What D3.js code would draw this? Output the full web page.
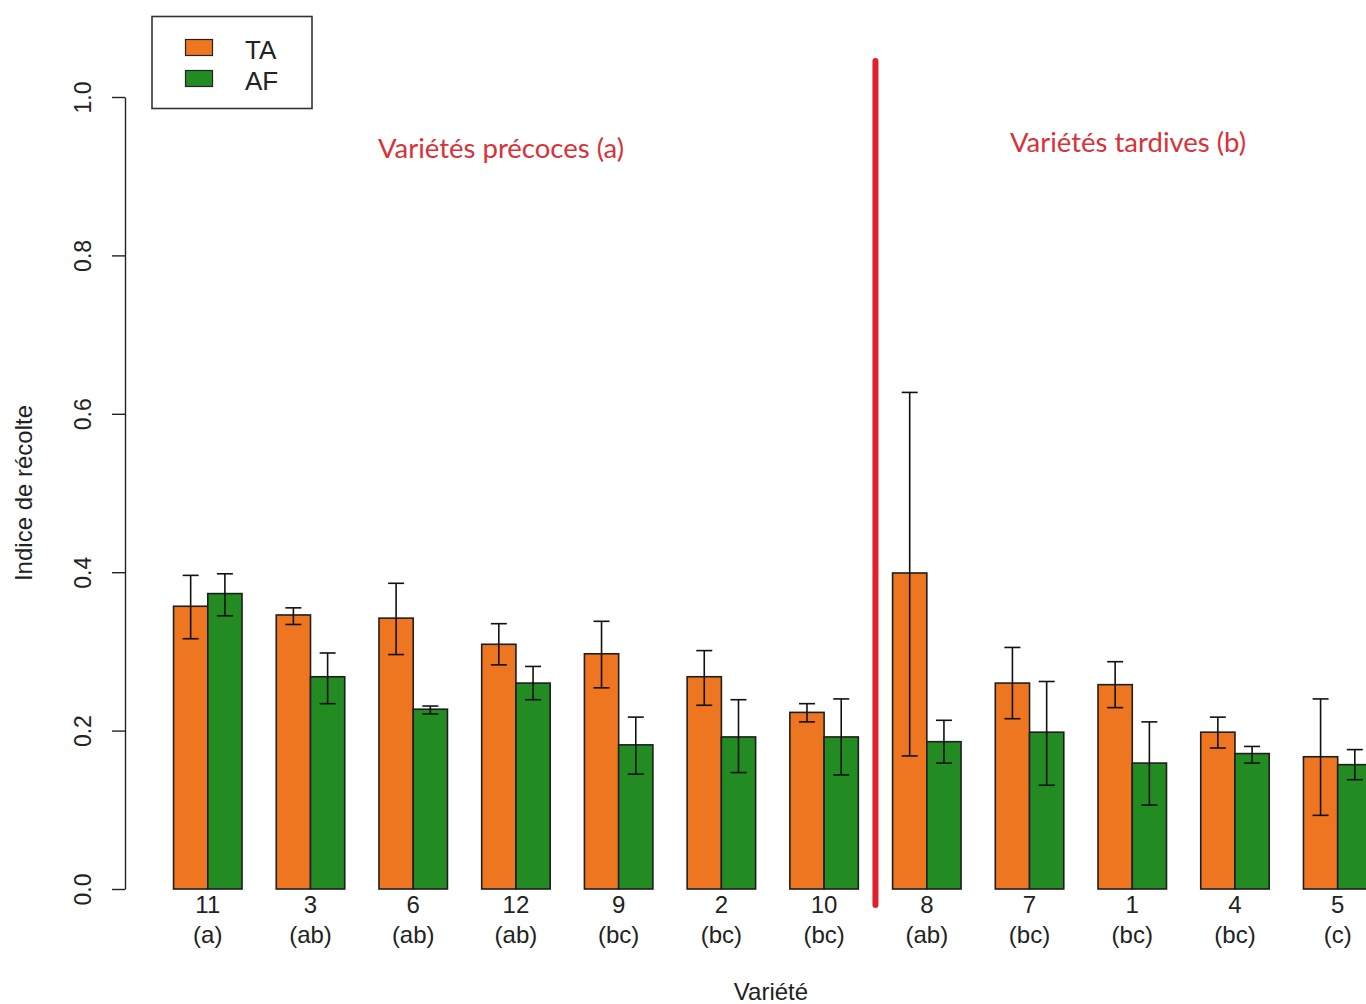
<!DOCTYPE html>
<html>
<head>
<meta charset="utf-8">
<script src="https://cdn.jsdelivr.net/npm/d3@7"></script>
<style>
  html, body { margin: 0; padding: 0; background: #fff; }
  svg { display: block; }
</style>
</head>
<body>
<svg id="chart" width="1366" height="1004"></svg>
<script>
// ---- Data ----
const categories = ["11", "3", "6", "12", "9", "2", "10", "8", "7", "1", "4", "5"];
const groupLetters = ["(a)", "(ab)", "(ab)", "(ab)", "(bc)", "(bc)", "(bc)", "(ab)", "(bc)", "(bc)", "(bc)", "(c)"];
const seriesNames = ["TA", "AF"];
const taValues = [0.357, 0.346, 0.342, 0.309, 0.297, 0.268, 0.223, 0.399, 0.260, 0.258, 0.198, 0.167];
const taLow    = [0.316, 0.334, 0.296, 0.283, 0.254, 0.232, 0.211, 0.168, 0.215, 0.229, 0.178, 0.093];
const taHigh   = [0.396, 0.355, 0.386, 0.335, 0.338, 0.301, 0.234, 0.627, 0.305, 0.287, 0.217, 0.240];
const afValues = [0.373, 0.268, 0.227, 0.260, 0.182, 0.192, 0.192, 0.186, 0.198, 0.159, 0.171, 0.157];
const afLow    = [0.345, 0.234, 0.221, 0.239, 0.145, 0.147, 0.144, 0.159, 0.131, 0.106, 0.159, 0.138];
const afHigh   = [0.398, 0.298, 0.231, 0.281, 0.217, 0.239, 0.240, 0.213, 0.262, 0.211, 0.180, 0.176];
const yTicks = [0, 0.2, 0.4, 0.6, 0.8, 1.0];
const earlyLabel = "Variétés précoces (a)";
const lateLabel = "Variétés tardives (b)";
const lastEarly = "10", firstLate = "8";

const colors = { TA: "#EE7621", AF: "#228B22" };

// ---- Layout ----
const svg = d3.select("#chart");
const unit = 34.24;
const xStart = 139.3;
const y = d3.scaleLinear().domain([0, 1]).range([889, 97]);
const x0 = d3.scaleBand().domain(categories)
  .range([xStart, xStart + 37 * unit])
  .paddingInner(1 / 3).paddingOuter(1 / 3);
const x1 = d3.scaleBand().domain(seriesNames).range([0, x0.bandwidth()]);

const rows = categories.map((c, i) => ({
  cat: c,
  letter: groupLetters[i],
  bars: [
    { s: "TA", v: taValues[i], lo: taLow[i], hi: taHigh[i] },
    { s: "AF", v: afValues[i], lo: afLow[i], hi: afHigh[i] }
  ]
}));

// ---- Bars ----
const groups = svg.append("g").selectAll("g").data(rows).join("g")
  .attr("transform", d => `translate(${x0(d.cat)},0)`);

groups.selectAll("rect").data(d => d.bars).join("rect")
  .attr("x", d => x1(d.s))
  .attr("y", d => y(d.v))
  .attr("width", x1.bandwidth())
  .attr("height", d => y(0) - y(d.v))
  .attr("fill", d => colors[d.s])
  .attr("stroke", "#1e1e1e")
  .attr("stroke-width", 1.6);

// ---- Error bars ----
const cap = 8;
const eb = groups.selectAll("g.err").data(d => d.bars).join("g").attr("class", "err")
  .attr("transform", d => `translate(${x1(d.s) + x1.bandwidth() / 2},0)`)
  .attr("stroke", "#111").attr("stroke-width", 1.6).attr("fill", "none");
eb.append("line").attr("x1", 0).attr("x2", 0).attr("y1", d => y(d.lo)).attr("y2", d => y(d.hi));
eb.append("line").attr("x1", -cap).attr("x2", cap).attr("y1", d => y(d.hi)).attr("y2", d => y(d.hi));
eb.append("line").attr("x1", -cap).attr("x2", cap).attr("y1", d => y(d.lo)).attr("y2", d => y(d.lo));

// ---- Y axis ----
const yAxis = svg.append("g").attr("transform", "translate(125,0)")
  .call(d3.axisLeft(y).tickValues(yTicks).tickFormat(d3.format(".1f")).tickSize(13).tickSizeOuter(0));
yAxis.select(".domain").attr("stroke", "#222").attr("stroke-width", 1.4);
yAxis.selectAll(".tick line").attr("stroke", "#222").attr("stroke-width", 1.4);
yAxis.selectAll(".tick text")
  .attr("x", null).attr("dy", null)
  .attr("transform", "translate(-42,0) rotate(-90)")
  .attr("text-anchor", "middle")
  .attr("dy", "0.35em")
  .attr("fill", "#222")
  .style("font-family", "'Liberation Sans', Arial, sans-serif")
  .style("font-size", "23px");

// Y title
svg.append("text")
  .attr("transform", "translate(24,493) rotate(-90)")
  .attr("text-anchor", "middle").attr("dy", "0.35em")
  .attr("fill", "#222")
  .style("font-family", "'Liberation Sans', Arial, sans-serif")
  .style("font-size", "24px")
  .text("Indice de récolte");

// ---- X labels ----
const xl = svg.append("g")
  .style("font-family", "'Liberation Sans', Arial, sans-serif")
  .style("font-size", "24px").attr("fill", "#222").attr("text-anchor", "middle");
xl.selectAll("text.cat").data(rows).join("text").attr("class", "cat")
  .attr("x", d => x0(d.cat) + x0.bandwidth() / 2).attr("y", 913).text(d => d.cat);
xl.selectAll("text.let").data(rows).join("text").attr("class", "let")
  .attr("x", d => x0(d.cat) + x0.bandwidth() / 2).attr("y", 943).text(d => d.letter);
xl.append("text").attr("x", 771).attr("y", 1000).text("Variété");

// ---- Separator line ----
const sepX = (x0(lastEarly) + x0.bandwidth() + x0(firstLate)) / 2;
svg.append("line")
  .attr("x1", sepX).attr("x2", sepX).attr("y1", 61).attr("y2", 905)
  .attr("stroke", "#E0202C").attr("stroke-width", 6).attr("stroke-linecap", "round");

// ---- Red annotations ----
const ann = svg.append("g")
  .style("font-family", "Lato, 'Open Sans', sans-serif")
  .style("font-size", "27.5px").attr("fill", "#D8323A").attr("text-anchor", "middle");
ann.append("text").attr("x", 501).attr("y", 148).attr("dy", "0.35em").text(earlyLabel);
ann.append("text").attr("x", 1128).attr("y", 142).attr("dy", "0.35em").text(lateLabel);

// ---- Legend ----
const lg = svg.append("g");
lg.append("rect").attr("x", 152).attr("y", 16.5).attr("width", 160).attr("height", 92)
  .attr("fill", "#fff").attr("stroke", "#333").attr("stroke-width", 1.6);
const li = lg.selectAll("g.item").data(seriesNames).join("g").attr("class", "item")
  .attr("transform", (d, i) => `translate(0,${i * 31})`);
li.append("rect").attr("x", 185.5).attr("y", 39.5).attr("width", 27).attr("height", 16)
  .attr("fill", d => colors[d]).attr("stroke", "#222").attr("stroke-width", 1.2);
li.append("text").attr("x", 245).attr("y", 50).attr("dy", "0.36em")
  .style("font-family", "'Liberation Sans', Arial, sans-serif")
  .style("font-size", "26px").attr("fill", "#222").text(d => d);
</script>
</body>
</html>
